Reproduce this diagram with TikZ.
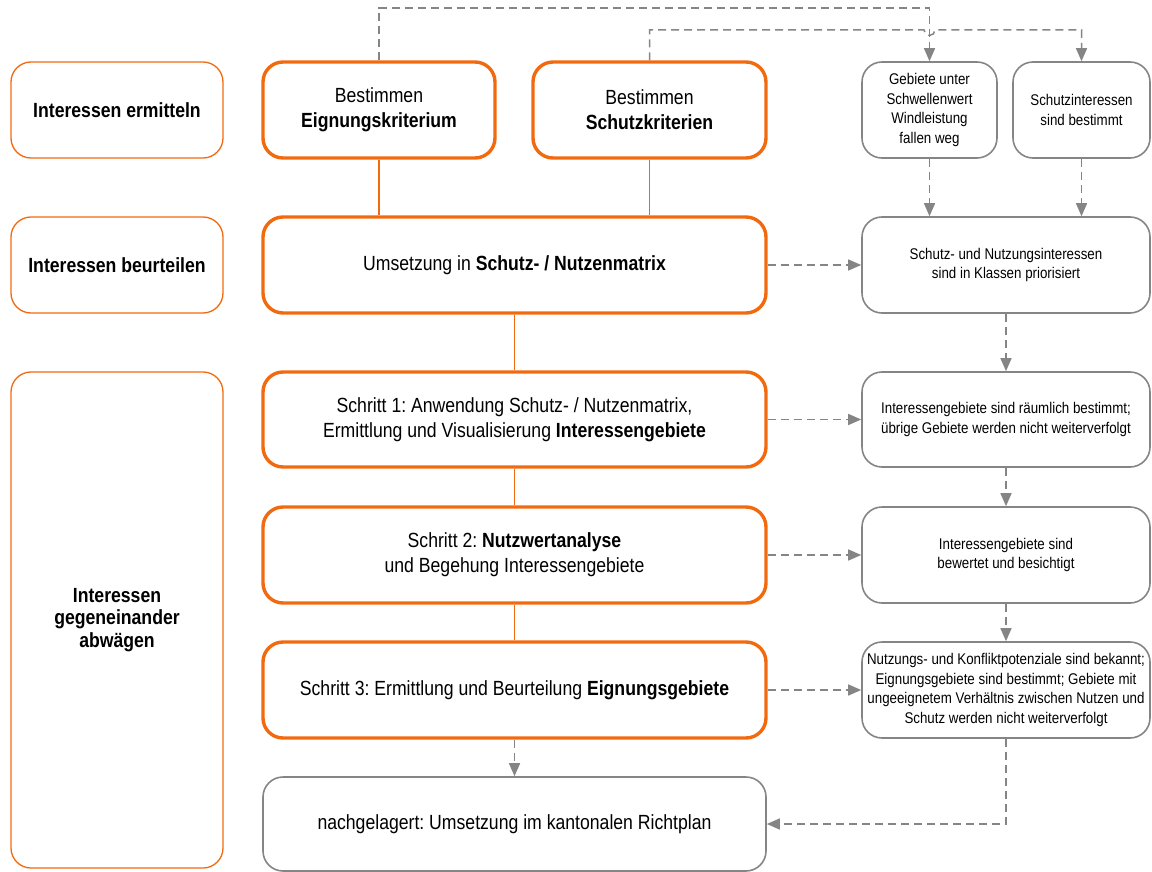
\documentclass[tikz,border=0pt]{standalone}
\usepackage{fontspec}
\setmainfont{Liberation Sans}[FakeStretch=0.86]
\frenchspacing
\usetikzlibrary{arrows.meta}
\definecolor{orng}{HTML}{F26A10}
\definecolor{gry}{HTML}{858585}
\tikzset{
  phase/.style={draw=orng, line width=1.3pt, rounded corners=20pt, align=center, font=\fontsize{20.5}{22.5}\selectfont\bfseries, inner sep=0pt},
  mainbox/.style={draw=orng, line width=3.4pt, rounded corners=20pt, align=center, font=\fontsize{20.5}{25}\selectfont, inner sep=0pt},
  resbox/.style={draw=gry, line width=1.6pt, rounded corners=20pt, align=center, font=\fontsize{15.5}{19.5}\selectfont, inner sep=0pt},
  solidcon/.style={draw=orng, line width=1.6pt},
  dcon/.style={draw=gry, line width=1.5pt, dash pattern=on 8pt off 5pt},
  darr/.style={dcon, -{Triangle[length=13pt,width=11pt]}},
}
\begin{document}
\begin{tikzpicture}[x=1pt,y=-1pt]
\useasboundingbox (0,0) rectangle (1152,872);
\clip (0,0) rectangle (1152,872);
% left phase column
\node[phase, minimum width=212pt, minimum height=96pt] (L1) at (117,110) {Interessen ermitteln};
\node[phase, minimum width=212pt, minimum height=96pt] (L2) at (117,265) {Interessen beurteilen};
\node[phase, minimum width=212pt, minimum height=496pt] (L3) at (117,620) {Interessen\\gegeneinander\\abwägen};
% main column
\node[mainbox, minimum width=232pt, minimum height=96pt] (E) at (379,110) {Bestimmen\\\textbf{Eignungskriterium}};
\node[mainbox, minimum width=233pt, minimum height=96pt] (S) at (649.5,110) {Bestimmen\\\textbf{Schutzkriterien}};
\node[mainbox, minimum width=503pt, minimum height=96pt] (U) at (514.5,265) {Umsetzung in \textbf{Schutz- / Nutzenmatrix}};
\node[mainbox, minimum width=503pt, minimum height=95pt] (S1) at (514.5,419.5) {Schritt 1: Anwendung Schutz- / Nutzenmatrix,\\Ermittlung und Visualisierung \textbf{Interessengebiete}};
\node[mainbox, minimum width=503pt, minimum height=96pt] (S2) at (514.5,555) {Schritt 2: \textbf{Nutzwertanalyse}\\und Begehung Interessengebiete};
\node[mainbox, minimum width=503pt, minimum height=96pt] (S3) at (514.5,690) {Schritt 3: Ermittlung und Beurteilung \textbf{Eignungsgebiete}};
\node[resbox, font=\fontsize{20.5}{25}\selectfont, minimum width=503pt, minimum height=94pt] (N) at (514.5,824) {nachgelagert: Umsetzung im kantonalen Richtplan};
% right column
\node[resbox, minimum width=135pt, minimum height=96pt] (R0a) at (929.5,110) {Gebiete unter\\Schwellenwert\\Windleistung\\fallen weg};
\node[resbox, minimum width=137pt, minimum height=96pt] (R0b) at (1081.5,110) {Schutzinteressen\\sind bestimmt};
\node[resbox, minimum width=288pt, minimum height=96pt] (R1) at (1006,265) {Schutz- und Nutzungsinteressen\\sind in Klassen priorisiert};
\node[resbox, minimum width=288pt, minimum height=95pt] (R2) at (1006,419.5) {Interessengebiete sind räumlich bestimmt;\\übrige Gebiete werden nicht weiterverfolgt};
\node[resbox, minimum width=288pt, minimum height=96pt] (R3) at (1006,555) {Interessengebiete sind\\bewertet und besichtigt};
\node[resbox, minimum width=288pt, minimum height=96pt] (R4) at (1006,690) {Nutzungs- und Konfliktpotenziale sind bekannt;\\Eignungsgebiete sind bestimmt; Gebiete mit\\ungeeignetem Verhältnis zwischen Nutzen und\\Schutz werden nicht weiterverfolgt};
% solid connectors
\draw[solidcon] (E.south) -- (E.south |- U.north);
\draw[solidcon] (S.south) -- (S.south |- U.north);
\draw[solidcon] (U.south) -- (S1.north);
\draw[solidcon] (S1.south) -- (S2.north);
\draw[solidcon] (S2.south) -- (S3.north);
% top dashed connectors
\coordinate (t1) at (379,8);
\coordinate (t2) at (649.5,30);
\coordinate (h1) at (924,30);
\coordinate (t3) at (1081.5,30);
\draw[darr] (E.north) -- (t1) -| (R0a.north);
\draw[darr] (S.north) -- (t2) -- (h1) arc[start angle=180,end angle=360,radius=5.5pt] -- (t3) -- (R0b.north);
% dashed arrows
\draw[darr] (R0a.south) -- (R0a.south |- R1.north);
\draw[darr] (R0b.south) -- (R0b.south |- R1.north);
\draw[darr] (R1.south) -- (R2.north);
\draw[darr] (R2.south) -- (R3.north);
\draw[darr] (R3.south) -- (R4.north);
\draw[darr] (R4.south) |- (N.east);
\draw[darr] (U.east) -- (R1.west);
\draw[darr] (S1.east) -- (R2.west);
\draw[darr] (S2.east) -- (R3.west);
\draw[darr] (S3.east) -- (R4.west);
\draw[darr] (S3.south) -- (N.north);
\end{tikzpicture}
\end{document}
